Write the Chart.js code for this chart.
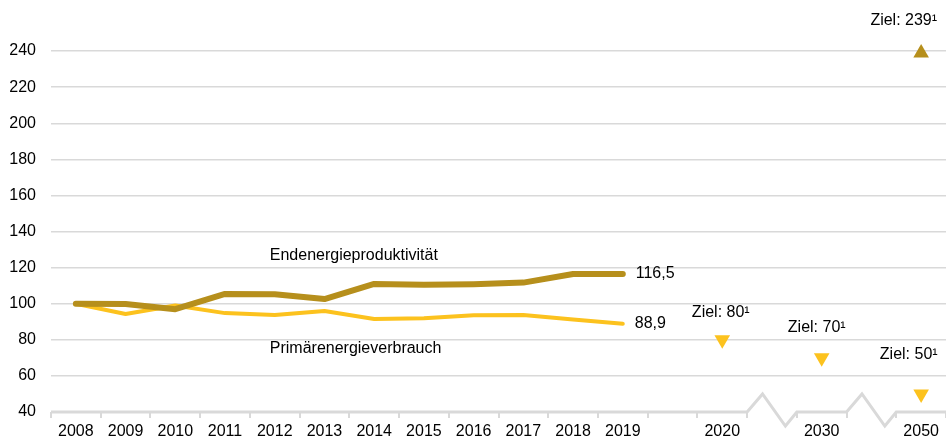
<!DOCTYPE html>
<html lang="de">
<head>
<meta charset="utf-8">
<title>Energieproduktivität und Primärenergieverbrauch</title>
<script src="https://cdn.jsdelivr.net/npm/chart.js@4/dist/chart.umd.min.js"></script>
<style>
  html, body { margin: 0; padding: 0; background: #fff; }
  #wrap { width: 946px; height: 440px; }
</style>
</head>
<body>
<div id="wrap"><canvas id="chart" width="946" height="440"></canvas></div>
<script>
// ─── Data ─────────────────────────────────────────────────────
const YEARS = ['2008', '2009', '2010', '2011', '2012', '2013', '2014', '2015', '2016', '2017', '2018', '2019', '', '2020', '', '2030', '', '2050'];
const ENDENERGIE = [100, 99.8, 97, 105.4, 105.3, 102.6, 111, 110.5, 110.8, 111.7, 116.5, 116.5, null, null, null, null, null, null];
const PRIMAER = [100, 94.3, 99, 94.8, 93.7, 96, 91.5, 92, 93.6, 93.8, 91.3, 88.9, null, null, null, null, null, null];
const ZIEL_PRIMAER = [null, null, null, null, null, null, null, null, null, null, null, null, null, 80, null, 70, null, 50];
const ZIEL_ENDENERGIE = [null, null, null, null, null, null, null, null, null, null, null, null, null, null, null, null, null, 239];
const GAP_INDEXES = [14, 16];
const Y_TICKS = [40, 60, 80, 100, 120, 140, 160, 180, 200, 220, 240];

const GOLD = '#b68f1c';
const YELLOW = '#fcc21e';
const GRID = '#d9d9d9';
const FONT = 'Liberation Sans, Arial, sans-serif';

// text annotations: [text, x value (category index), y value, align]
const NOTES = [
    ['Endenergieproduktivität', 3.9, 126.4, 'left'],
    ['Primärenergieverbrauch', 3.9, 75, 'left'],
    ['116,5', 11.26, 116.5, 'left'],
    ['88,9', 11.24, 88.9, 'left'],
    ['Ziel: 80\u00b9', 12.97, 95, 'center'],
    ['Ziel: 70\u00b9', 14.9, 87, 'center'],
    ['Ziel: 50\u00b9', 16.75, 71.6, 'center'],
    ['Ziel: 239\u00b9', 16.65, 257, 'center'],
];

// ─── Plugins ──────────────────────────────────────────────────
const axisBreaks = {
    id: 'axisBreaks',
    afterDatasetsDraw(chart) {
        const { ctx, scales: { x, y } } = chart;
        const b = y.getPixelForValue(40);
        const cw = x.getPixelForValue(1) - x.getPixelForValue(0);
        ctx.save();
        ctx.strokeStyle = GRID;
        ctx.lineWidth = 3;
        ctx.beginPath();
        ctx.moveTo(chart.chartArea.left, b);
        GAP_INDEXES.forEach((g) => {
            const l = x.getPixelForValue(g) - cw / 2;
            ctx.lineTo(l, b);
            ctx.lineTo(l + cw * 0.31, b - 18);
            ctx.lineTo(l + cw * 0.77, b + 14);
            ctx.lineTo(l + cw, b);
        });
        ctx.lineTo(chart.chartArea.right, b);
        ctx.stroke();
        ctx.restore();
    },
};

const notes = {
    id: 'notes',
    afterDraw(chart) {
        const { ctx, scales: { x, y } } = chart;
        ctx.save();
        ctx.fillStyle = '#000';
        ctx.font = `16px ${FONT}`;
        ctx.textBaseline = 'middle';
        NOTES.forEach(([t, xi, yv, align]) => {
            ctx.textAlign = align;
            ctx.fillText(t, x.getPixelForValue(xi), y.getPixelForValue(yv));
        });
        ctx.restore();
    },
};

// ─── Chart ────────────────────────────────────────────────────
new Chart(document.getElementById('chart'), {
    type: 'line',
    data: {
        labels: YEARS,
        datasets: [
            {
                label: 'Endenergieproduktivität',
                data: ENDENERGIE,
                borderColor: GOLD,
                borderWidth: 6,
                borderCapStyle: 'round',
                borderJoinStyle: 'round',
                pointRadius: 0,
                tension: 0,
            },
            {
                label: 'Primärenergieverbrauch',
                data: PRIMAER,
                borderColor: YELLOW,
                borderWidth: 4,
                borderCapStyle: 'round',
                borderJoinStyle: 'round',
                pointRadius: 0,
                tension: 0,
            },
            {
                label: 'Ziel Primärenergieverbrauch',
                data: ZIEL_PRIMAER,
                showLine: false,
                pointStyle: 'triangle',
                pointRotation: 180,
                pointRadius: 9,
                pointBackgroundColor: YELLOW,
                pointBorderWidth: 0,
            },
            {
                label: 'Ziel Endenergieproduktivität',
                data: ZIEL_ENDENERGIE,
                showLine: false,
                pointStyle: 'triangle',
                pointRadius: 9,
                pointBackgroundColor: GOLD,
                pointBorderWidth: 0,
            },
        ],
    },
    options: {
        responsive: false,
        animation: false,
        layout: { autoPadding: false, padding: { top: 15, right: 0, bottom: 0, left: 0 } },
        plugins: { legend: { display: false }, tooltip: { enabled: false } },
        scales: {
            x: {
                offset: true,
                border: { display: false },
                grid: { offset: true, drawOnChartArea: false, drawTicks: true, tickLength: 6, color: GRID, lineWidth: 2 },
                ticks: { color: '#000', font: { family: FONT, size: 16 }, padding: 4, autoSkip: false, maxRotation: 0 },
                afterFit: (s) => { s.height = 28; s.paddingLeft = 0; s.paddingRight = 0; },
            },
            y: {
                min: 40,
                max: 260,
                border: { display: false },
                afterBuildTicks: (s) => { s.ticks = Y_TICKS.concat([260]).map((v) => ({ value: v })); },
                grid: {
                    drawTicks: false,
                    lineWidth: 1.5,
                    color: (c) => (c.tick && (c.tick.value === 40 || c.tick.value === 260) ? 'rgba(0,0,0,0)' : GRID),
                },
                ticks: {
                    color: '#000',
                    font: { family: FONT, size: 16 },
                    padding: 15,
                    callback: (v) => (Y_TICKS.includes(v) ? String(v) : ''),
                },
                afterFit: (s) => { s.width = 51; s.paddingTop = 0; s.paddingBottom = 0; },
            },
        },
    },
    plugins: [axisBreaks, notes],
});
</script>
</body>
</html>
